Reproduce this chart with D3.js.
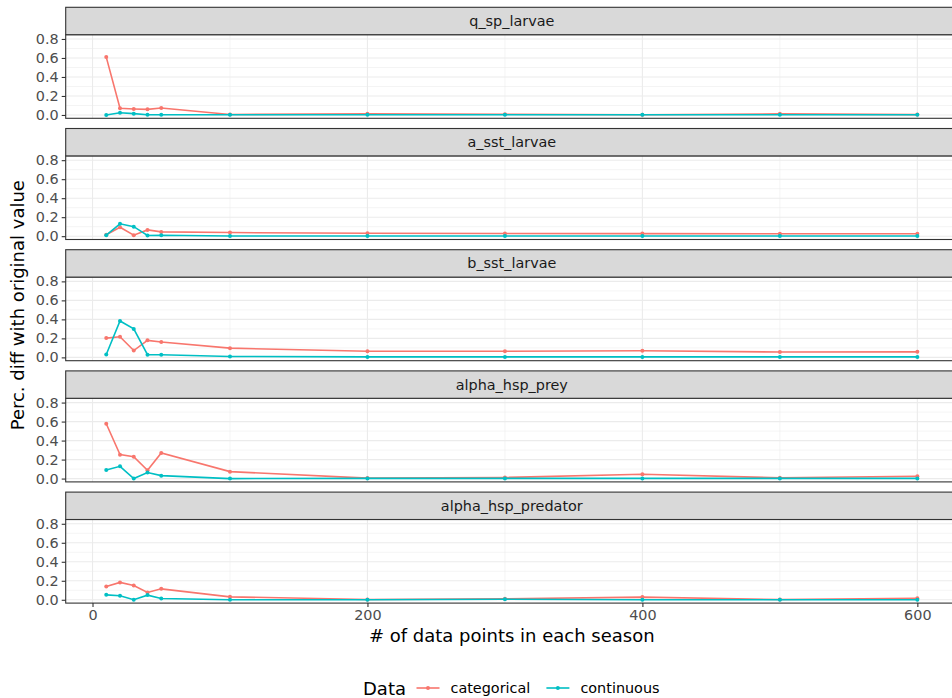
<!DOCTYPE html>
<html>
<head>
<meta charset="utf-8">
<script src="https://cdn.jsdelivr.net/npm/d3@7/dist/d3.min.js"></script>
<style>
  html, body { margin: 0; padding: 0; background: #ffffff; overflow: hidden; }
  svg { display: block; font-family: "DejaVu Sans", sans-serif; }
</style>
</head>
<body>
<svg id="chart" width="952" height="698"></svg>
<script>
// Number of data points per season (x values shared by every facet)
const sampleSizes = [10, 20, 30, 40, 50, 100, 200, 300, 400, 500, 600];

// Facet order (top to bottom)
const parameters = ["q_sp_larvae", "a_sst_larvae", "b_sst_larvae", "alpha_hsp_prey", "alpha_hsp_predator"];

// Percentage difference with original value, categorical data
const catQSpLarvae       = [0.609, 0.070, 0.063, 0.059, 0.073, 0.005, 0.012, 0.008, 0.003, 0.012, 0.004];
const catASstLarvae      = [0.015, 0.094, 0.010, 0.066, 0.045, 0.038, 0.030, 0.028, 0.027, 0.025, 0.025];
const catBSstLarvae      = [0.203, 0.217, 0.072, 0.179, 0.162, 0.097, 0.065, 0.065, 0.070, 0.056, 0.058];
const catAlphaHspPrey    = [0.577, 0.252, 0.231, 0.087, 0.269, 0.073, 0.005, 0.012, 0.045, 0.008, 0.025];
const catAlphaHspPred    = [0.140, 0.183, 0.150, 0.077, 0.115, 0.031, 0.003, 0.010, 0.028, 0.003, 0.015];

// Percentage difference with original value, continuous data
const contQSpLarvae      = [0.000, 0.024, 0.014, 0.002, 0.002, 0.002, 0.002, 0.002, 0.002, 0.002, 0.002];
const contASstLarvae     = [0.010, 0.130, 0.100, 0.007, 0.010, 0.002, 0.002, 0.002, 0.002, 0.002, 0.002];
const contBSstLarvae     = [0.031, 0.383, 0.300, 0.028, 0.028, 0.010, 0.005, 0.005, 0.005, 0.005, 0.005];
const contAlphaHspPrey   = [0.091, 0.129, 0.000, 0.063, 0.031, 0.000, 0.002, 0.002, 0.002, 0.002, 0.002];
const contAlphaHspPred   = [0.052, 0.042, 0.000, 0.049, 0.014, 0.000, 0.000, 0.005, 0.000, 0.000, 0.000];

const categoricalSeries = [catQSpLarvae, catASstLarvae, catBSstLarvae, catAlphaHspPrey, catAlphaHspPred];
const continuousSeries  = [contQSpLarvae, contASstLarvae, contBSstLarvae, contAlphaHspPrey, contAlphaHspPred];

const seriesNames  = ["categorical", "continuous"];
const seriesColors = ["#F8766D", "#00BFC4"];

const xTicks = [0, 200, 400, 600];
const xMinor = [100, 300, 500];
const yTicks = [0, 0.2, 0.4, 0.6, 0.8];
const yMinor = [0.1, 0.3, 0.5, 0.7];

// ---- layout ----
const svg = d3.select("#chart");
const panelLeft = 65.7, panelRight = 957.9;
const firstStripTop = 7.3, facetPitch = 121.2, stripH = 27.4, plotH = 83.6;

const x = d3.scaleLinear().domain([-19.5, 629.5]).range([panelLeft, panelRight]);

const line = (y) => d3.line().x((d, i) => x(sampleSizes[i])).y(d => y(d));

parameters.forEach((name, f) => {
  const stripTop = firstStripTop + f * facetPitch;
  const plotTop = stripTop + stripH;
  const plotBottom = plotTop + plotH;
  const y = d3.scaleLinear().domain([-0.035, 0.845]).range([plotBottom, plotTop]);
  const g = svg.append("g").attr("class", "facet");

  // panel background
  g.append("rect").attr("x", panelLeft).attr("y", plotTop)
    .attr("width", panelRight - panelLeft).attr("height", plotH).attr("fill", "#ffffff");

  // minor grid
  g.selectAll(".ymin").data(yMinor).enter().append("line")
    .attr("x1", panelLeft).attr("x2", panelRight)
    .attr("y1", d => y(d)).attr("y2", d => y(d))
    .attr("stroke", "#EBEBEB").attr("stroke-width", 0.55);
  g.selectAll(".xmin").data(xMinor).enter().append("line")
    .attr("y1", plotTop).attr("y2", plotBottom)
    .attr("x1", d => x(d)).attr("x2", d => x(d))
    .attr("stroke", "#EBEBEB").attr("stroke-width", 0.55);
  // major grid
  g.selectAll(".ymaj").data(yTicks).enter().append("line")
    .attr("x1", panelLeft).attr("x2", panelRight)
    .attr("y1", d => y(d)).attr("y2", d => y(d))
    .attr("stroke", "#EBEBEB").attr("stroke-width", 1.1);
  g.selectAll(".xmaj").data(xTicks).enter().append("line")
    .attr("y1", plotTop).attr("y2", plotBottom)
    .attr("x1", d => x(d)).attr("x2", d => x(d))
    .attr("stroke", "#EBEBEB").attr("stroke-width", 1.1);

  // series lines and points
  [categoricalSeries[f], continuousSeries[f]].forEach((vals, s) => {
    g.append("path").datum(vals)
      .attr("d", line(y))
      .attr("fill", "none").attr("stroke", seriesColors[s]).attr("stroke-width", 1.6);
    g.selectAll(".pt" + s).data(vals).enter().append("circle")
      .attr("cx", (d, i) => x(sampleSizes[i])).attr("cy", d => y(d))
      .attr("r", 2).attr("fill", seriesColors[s]);
  });

  // panel border
  g.append("rect").attr("x", panelLeft).attr("y", plotTop)
    .attr("width", panelRight - panelLeft).attr("height", plotH)
    .attr("fill", "none").attr("stroke", "#333333").attr("stroke-width", 1.1);

  // strip
  g.append("rect").attr("x", panelLeft).attr("y", stripTop)
    .attr("width", panelRight - panelLeft).attr("height", stripH)
    .attr("fill", "#D9D9D9").attr("stroke", "#333333").attr("stroke-width", 1.1);
  g.append("text").attr("x", (panelLeft + panelRight) / 2).attr("y", stripTop + stripH / 2)
    .attr("text-anchor", "middle").attr("dominant-baseline", "central")
    .attr("font-size", 14.4).attr("fill", "#1A1A1A").text(name);

  // y axis
  const yAxis = d3.axisLeft(y).tickValues(yTicks).tickFormat(d3.format(".1f")).tickSize(4).tickPadding(3);
  const ya = g.append("g").attr("transform", `translate(${panelLeft},0)`).call(yAxis);
  ya.select(".domain").remove();
  ya.selectAll(".tick line").attr("stroke", "#333333").attr("stroke-width", 1.1);
  ya.selectAll(".tick text").attr("font-size", 14.4).attr("fill", "#4D4D4D")
    .attr("font-family", "DejaVu Sans, sans-serif");

  // x axis on the bottom facet only
  if (f === parameters.length - 1) {
    const xAxis = d3.axisBottom(x).tickValues(xTicks).tickFormat(d3.format("d")).tickSize(4).tickPadding(3);
    const xa = g.append("g").attr("transform", `translate(0,${plotBottom})`).call(xAxis);
    xa.select(".domain").remove();
    xa.selectAll(".tick line").attr("stroke", "#333333").attr("stroke-width", 1.1);
    xa.selectAll(".tick text").attr("font-size", 14.4).attr("fill", "#4D4D4D")
      .attr("font-family", "DejaVu Sans, sans-serif");
  }
});

// axis titles
svg.append("text").attr("x", (panelLeft + panelRight) / 2).attr("y", 642)
  .attr("text-anchor", "middle").attr("font-size", 18).attr("fill", "#000000")
  .text("# of data points in each season");

const plotMidY = (firstStripTop + firstStripTop + 4 * facetPitch + stripH + plotH) / 2;
svg.append("text").attr("transform", `translate(24,${plotMidY}) rotate(-90)`)
  .attr("text-anchor", "middle").attr("font-size", 18).attr("fill", "#000000")
  .text("Perc. diff with original value");

// legend
const legend = svg.append("g").attr("transform", "translate(363,688)");
legend.append("text").attr("x", 0).attr("y", 0).attr("dominant-baseline", "central")
  .attr("font-size", 18).attr("fill", "#000000").text("Data");
const keyX = [53.5, 183.4];
seriesNames.forEach((nm, s) => {
  const kg = legend.append("g").attr("transform", `translate(${keyX[s]},0)`);
  kg.append("line").attr("x1", 0).attr("x2", 23).attr("y1", 0).attr("y2", 0)
    .attr("stroke", seriesColors[s]).attr("stroke-width", 1.6);
  kg.append("circle").attr("cx", 11.5).attr("cy", 0).attr("r", 2).attr("fill", seriesColors[s]);
  kg.append("text").attr("x", 34).attr("y", 0).attr("dominant-baseline", "central")
    .attr("font-size", 14.4).attr("fill", "#000000").text(nm);
});
</script>
</body>
</html>
